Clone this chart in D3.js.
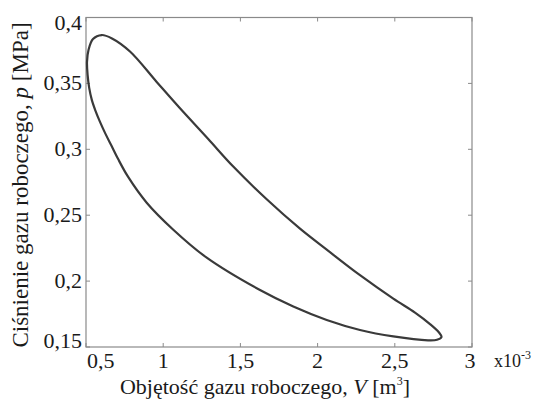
<!DOCTYPE html>
<html><head><meta charset="utf-8">
<script src="https://cdn.jsdelivr.net/npm/d3@7"></script>
<style>
body{margin:0;background:#fff;}
</style></head>
<body><svg id="c" width="537" height="403"></svg>
<script>
// closed p-V loop, V in units of 1e-3 m^3, p in MPa (starting at leftmost point, going over the top)
const loopV = [0.5065,0.5162,0.5453,0.6017,0.6684,0.7850,0.9579,1.1088,1.2902,1.4521,1.6704,1.8860,2.0590,2.2746,2.4903,2.6308,2.7280,2.7863,2.8025,2.7733,2.7150,2.4903,2.2746,2.0590,1.8426,1.6269,1.2817,1.0654,0.8931,0.7720,0.7073,0.6652,0.6263,0.5907,0.5615,0.5376,0.5207,0.5104];
const loopP = [0.3663,0.3754,0.3837,0.3867,0.3841,0.3742,0.3511,0.3311,0.3080,0.2871,0.2621,0.2398,0.2239,0.2045,0.1867,0.1761,0.1674,0.1610,0.1576,0.1555,0.1551,0.1580,0.1629,0.1705,0.1807,0.1932,0.2178,0.2390,0.2595,0.2792,0.2928,0.3027,0.3117,0.3208,0.3292,0.3375,0.3466,0.3564];
const xTicks = [0.5,1,1.5,2,2.5,3];
const yTicks = [0.15,0.2,0.25,0.3,0.35,0.4];
const xTitle = "Objętość gazu roboczego, ";
const yTitle = "Ciśnienie gazu roboczego, ";

const svg = d3.select("#c");
const FF = "Liberation Serif, Times, serif";
const L=86, R=472, T=17.5, B=347;
const x = d3.scaleLinear().domain([0.5,3]).range([L,R]);
const y = d3.scaleLinear().domain([0.15,0.4]).range([B,T]);
const fmt = v => String(v).replace(".", ",");
const axisCol = "#8a8a8a";
const txtCol = "#1a1a1a";
const txt = () => svg.append("text").attr("font-family",FF).attr("fill",txtCol);

// frame
svg.append("rect").attr("x",L).attr("y",T).attr("width",R-L).attr("height",B-T)
  .attr("fill","none").attr("stroke",axisCol).attr("stroke-width",1.2);

// ticks (inward on all sides)
const tl = 4;
const g = svg.append("g").attr("stroke",axisCol).attr("stroke-width",1);
xTicks.forEach(v=>{
  g.append("line").attr("x1",x(v)).attr("x2",x(v)).attr("y1",B).attr("y2",B-tl);
  g.append("line").attr("x1",x(v)).attr("x2",x(v)).attr("y1",T).attr("y2",T+tl);
});
yTicks.forEach(v=>{
  g.append("line").attr("x1",L).attr("x2",L+tl).attr("y1",y(v)).attr("y2",y(v));
  g.append("line").attr("x1",R).attr("x2",R-tl).attr("y1",y(v)).attr("y2",y(v));
});

// tick labels
const fs = 22;
xTicks.forEach((v,i)=>{
  const t = txt().attr("y",368).attr("font-size",fs).text(fmt(v));
  if(i===0) t.attr("x",x(v)+1).attr("text-anchor","start");
  else t.attr("x",x(v)-(i===xTicks.length-1?2:0)).attr("text-anchor","middle");
});
yTicks.forEach((v,i)=>{
  let dy = 7;
  if(i===yTicks.length-1) dy = 12;
  if(i===0) dy = 1;
  txt().attr("x",82).attr("y",y(v)+dy).attr("text-anchor","end").attr("font-size",fs).text(fmt(v));
});

// exponent
const ex = txt().attr("x",494).attr("y",367).attr("font-size",18);
ex.append("tspan").text("x10");
ex.append("tspan").attr("dy",-8).attr("font-size",12).text("-3");

// x title
const xt = txt().attr("x",265).attr("y",394).attr("text-anchor","middle").attr("font-size",22);
xt.append("tspan").text(xTitle);
xt.append("tspan").attr("font-style","italic").text("V");
xt.append("tspan").text(" [m");
xt.append("tspan").attr("dy",-9).attr("font-size",12).text("3");
xt.append("tspan").attr("dy",9).text("]");

// y title
const yt = txt().attr("transform","translate(28,185) rotate(-90)").attr("text-anchor","middle").attr("font-size",23);
yt.append("tspan").text(yTitle);
yt.append("tspan").attr("font-style","italic").text("p");
yt.append("tspan").text(" [MPa]");

// curve
const pts = loopV.map((v,i)=>[v,loopP[i]]);
const line = d3.line().x(d=>x(d[0])).y(d=>y(d[1])).curve(d3.curveCatmullRomClosed.alpha(0.5));
svg.append("path").datum(pts).attr("d",line).attr("fill","none").attr("stroke","#3a3a3a").attr("stroke-width",2.2);
</script></body></html>
